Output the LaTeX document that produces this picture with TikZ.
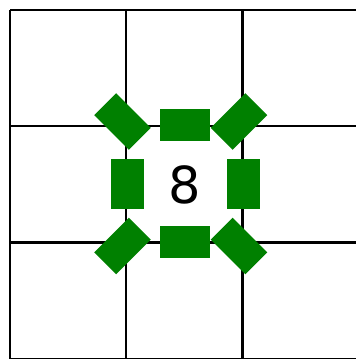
\documentclass[tikz,border=0pt]{standalone}
\usepackage{fontspec}
\newfontfamily\digitfont{DejaVu Sans}
\definecolor{webgreen}{HTML}{008000}
\begin{document}
\begin{tikzpicture}[x=1pt,y=-1pt,
  gridline/.style={line width=2.3pt,black},
  bar/.style={fill=webgreen,draw=none,inner sep=0pt,rectangle},
  hbar/.style={bar,minimum width=50pt,minimum height=32pt},
  vbar/.style={bar,minimum width=33pt,minimum height=50pt},
  dbar/.style={bar,minimum width=49pt,minimum height=31pt}]
\useasboundingbox (0,0) rectangle (356,359);
\clip (0,0) rectangle (356,359);
\fill[white] (0,0) rectangle (356,359);
\foreach \v in {10.2,126.2,242.5,359.2}{
  \draw[gridline] (\v,10) -- (\v,370);
}
\foreach \v in {10,126,242.5,359.6}{
  \draw[gridline] (10,\v) -- (370,\v);
}
\node[hbar] (top) at (185,125) {};
\node[hbar] (bottom) at (185,242) {};
\node[vbar] (left) at (127,184) {};
\node[vbar] (right) at (243,184) {};
\node[dbar,rotate=-45] (tl) at (122.5,121.5) {};
\node[dbar,rotate=45] (tr) at (239,121.5) {};
\node[dbar,rotate=45] (bl) at (122.5,246) {};
\node[dbar,rotate=-45] (br) at (239,246) {};
\node[inner sep=0pt,font=\digitfont\fontsize{51}{51}\selectfont] (num) at (185,185) {8};
\end{tikzpicture}
\end{document}
